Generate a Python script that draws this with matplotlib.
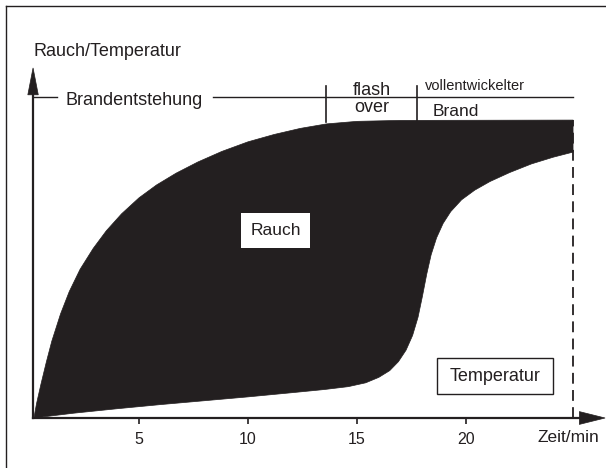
import matplotlib
matplotlib.use("Agg")
import matplotlib.pyplot as plt
from matplotlib.patches import Polygon, Rectangle
from matplotlib.lines import Line2D

plt.rcParams['font.family'] = ['Liberation Sans', 'DejaVu Sans']

# ---- data (minutes, relative level) ----
rauch_x = [0.18, 0.3, 0.5, 0.75, 1.0, 1.4, 1.8, 2.3, 2.9, 3.5, 4.2, 5.0, 5.8, 6.7, 7.7,
           8.8, 10.0, 11.2, 12.4, 13.6, 15.0, 17.0, 24.91]
rauch_y = [0.0, 4.5, 10.5, 17.5, 24.0, 32.5, 39.5, 46.5, 53.0, 58.5, 63.8, 68.8, 72.8, 76.5, 80.0,
           83.3, 86.3, 88.6, 90.5, 91.9, 92.7, 93.0, 93.1]

temp_x = [0.18, 2.0, 4.0, 6.0, 8.0, 10.0, 12.0, 13.5, 14.6, 15.4, 16.0, 16.5, 16.9, 17.25, 17.55,
          17.8, 18.0, 18.2, 18.4, 18.65, 18.95, 19.3, 19.8, 20.4, 21.1, 22.0, 23.0, 24.0, 24.91]
temp_y = [0.0, 1.5, 2.9, 4.2, 5.4, 6.6, 7.9, 8.9, 9.8, 11.0, 12.7, 14.8, 17.6, 21.2, 25.8,
          31.5, 38.0, 45.0, 51.0, 56.3, 60.8, 64.5, 68.2, 71.2, 73.9, 76.7, 79.4, 81.5, 83.1]

x_ticks = [5, 10, 15, 20]
x_ticklabels = ["5", "10", "15", "20"]
phase_bounds = [13.58, 17.75]
end_time = 24.91

INK = '#231f20'

fig = plt.figure(figsize=(6.06, 4.68), dpi=100)
ax = fig.add_axes([0, 0, 1, 1])
ax.set_xlim(-30 / 21.8, 576 / 21.8)
ax.set_ylim(-50 / 3.2, 418 / 3.2)

# black area between curves
poly = list(zip(rauch_x, rauch_y)) + list(zip(temp_x[::-1], temp_y[::-1]))
ax.add_patch(Polygon(poly, closed=True, facecolor=INK, edgecolor=INK, lw=0.5,
                     joinstyle='round', zorder=2))

# axes as spines
for s in ['top', 'right']:
    ax.spines[s].set_visible(False)
ax.spines['bottom'].set_position(('data', 0))
ax.spines['bottom'].set_bounds(0.14, 25.4)
ax.spines['left'].set_position(('data', 0.14))
ax.spines['left'].set_bounds(0, 102)
for s in ['bottom', 'left']:
    ax.spines[s].set_linewidth(1.6)
    ax.spines[s].set_color(INK)
    ax.spines[s].set_zorder(4)
ax.set_xticks(x_ticks)
ax.set_xticklabels(x_ticklabels)
ax.tick_params(axis='x', direction='out', length=4, width=1.2, color=INK,
               labelsize=11.5, labelcolor=INK, pad=6)
ax.set_yticks([])

# arrow heads
ax.add_patch(Polygon([(0.14, 109.4), (0.14 - 0.24, 101.0), (0.14 + 0.24, 101.0)],
                     closed=True, facecolor=INK, edgecolor=INK, lw=0.5, zorder=5))
ax.add_patch(Polygon([(26.38, 0), (25.2, 2.0), (25.2, -2.0)],
                     closed=True, facecolor=INK, edgecolor=INK, lw=0.5, zorder=5))

# dashed end line
ax.plot([end_time, end_time], [0, 93], color=INK, lw=1.3, ls=(0, (6, 3.5)), zorder=3)

# phase header line
ax.plot([0.14, 1.24], [100.2, 100.2], color=INK, lw=1.0, zorder=3)
ax.plot([8.39, end_time], [100.2, 100.2], color=INK, lw=1.0, zorder=3)
for xb in phase_bounds:
    ax.plot([xb, xb], [92.5, 103.75], color=INK, lw=1.2, zorder=3)

ax.text(1.65, 97.8, "Brandentstehung", fontsize=13, color=INK, ha='left', va='baseline')
ax.text(15.69, 100.9, "flash", fontsize=13, color=INK, ha='center', va='baseline')
ax.text(15.69, 95.6, "over", fontsize=13, color=INK, ha='center', va='baseline')
ax.text(18.12, 102.6, "vollentwickelter", fontsize=10.5, color=INK, ha='left', va='baseline')
ax.text(18.49, 94.3, "Brand", fontsize=12.5, color=INK, ha='left', va='baseline')

ax.text(0.18, 113.1, "Rauch/Temperatur", fontsize=13, color=INK, ha='left', va='baseline')
ax.text(23.3, -7.5, "Zeit/min", fontsize=12.5, color=INK, ha='left', va='baseline')

# label boxes
ax.add_patch(Rectangle((9.68, 53.1), 3.16, 11.0, facecolor='white', edgecolor='none', zorder=4))
ax.text(11.26, 58.6, "Rauch", fontsize=12.5, color=INK, ha='center', va='center', zorder=5)
ax.add_patch(Rectangle((18.67, 7.5), 5.32, 11.25, facecolor='white', edgecolor=INK, lw=1.0, zorder=4))
ax.text(21.33, 13.1, "Temperatur", fontsize=13, color=INK, ha='center', va='center', zorder=5)

# frame (left and top edges of the cropped figure)
fig.add_artist(Line2D([6 / 606, 6 / 606], [0, 1 - 6 / 468], transform=fig.transFigure, color=INK, lw=1.0))
fig.add_artist(Line2D([6 / 606, 1], [1 - 6 / 468, 1 - 6 / 468], transform=fig.transFigure, color=INK, lw=1.0))

fig.savefig("out.png", dpi=100)
